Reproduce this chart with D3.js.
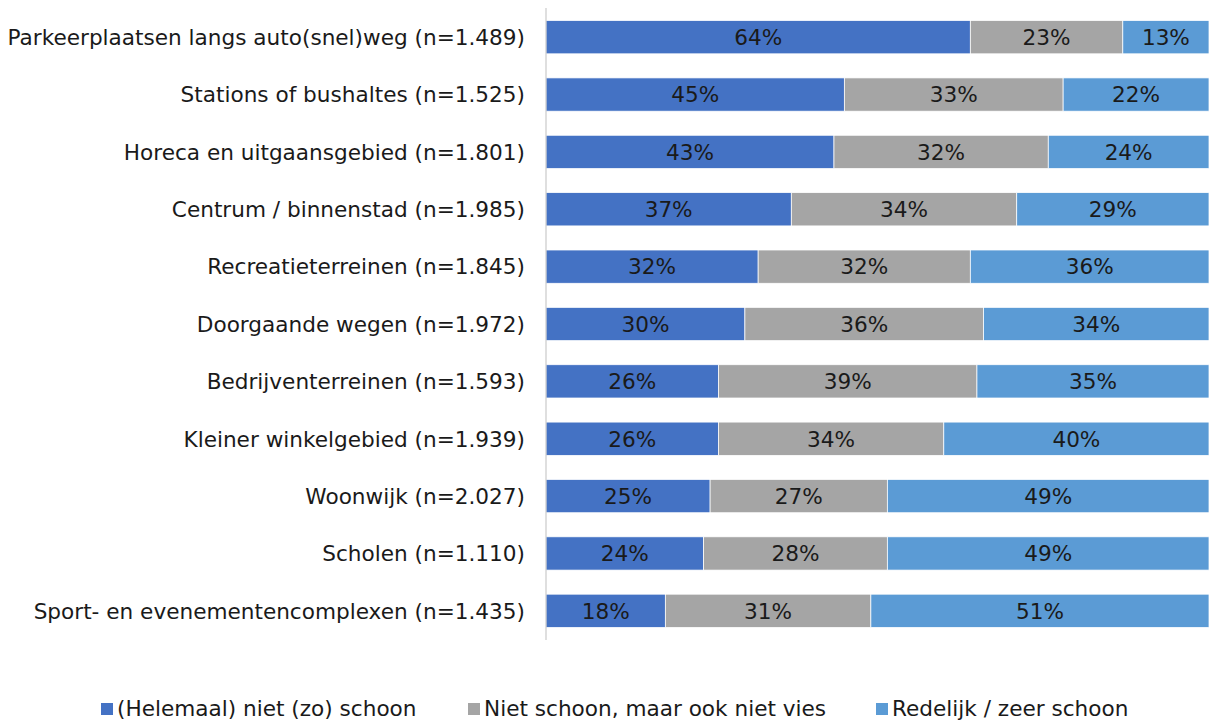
<!DOCTYPE html>
<html>
<head>
<meta charset="utf-8">
<script src="https://cdn.jsdelivr.net/npm/d3@7"></script>
<style>
  body { margin: 0; background: #fff; }
  text { font-family: "DejaVu Sans", Verdana, sans-serif; fill: #1a1a1a; }
</style>
</head>
<body>
<svg id="chart" width="1209" height="722"></svg>
<script>
var categories = [
  'Parkeerplaatsen langs auto(snel)weg (n=1.489)',
  'Stations of bushaltes (n=1.525)',
  'Horeca en uitgaansgebied (n=1.801)',
  'Centrum / binnenstad (n=1.985)',
  'Recreatieterreinen (n=1.845)',
  'Doorgaande wegen (n=1.972)',
  'Bedrijventerreinen (n=1.593)',
  'Kleiner winkelgebied (n=1.939)',
  'Woonwijk (n=2.027)',
  'Scholen (n=1.110)',
  'Sport- en evenementencomplexen (n=1.435)'
];

var seriesNames = ['(Helemaal) niet (zo) schoon', 'Niet schoon, maar ook niet vies', 'Redelijk / zeer schoon'];
var colors = ['#4472c4', '#a5a5a5', '#5b9bd5'];

var nietSchoon = [64, 45, 43, 37, 32, 30, 26, 26, 25, 24, 18];
var neutraal   = [23, 33, 32, 34, 32, 36, 39, 34, 27, 28, 31];
var schoon     = [13, 22, 24, 29, 36, 34, 35, 40, 49, 49, 51];

var series = [nietSchoon, neutraal, schoon];

var fontSize = '21.6px';
var svg = d3.select('#chart');

var axisX = 546;
var x = d3.scaleLinear().domain([0, 1]).range([axisX, 1209]);
var y = d3.scaleBand()
  .domain(categories)
  .range([8.5, 639.5])
  .paddingInner(0.42)
  .paddingOuter(0.21);

// build stacked rows, normalised to the row total
var rows = categories.map(function(c, i) {
  var total = nietSchoon[i] + neutraal[i] + schoon[i];
  var acc = 0;
  return series.map(function(s, k) {
    var seg = { cat: c, k: k, value: s[i], x0: acc / total, x1: (acc + s[i]) / total };
    acc += s[i];
    return seg;
  });
});

var segs = [].concat.apply([], rows);

svg.append('g').selectAll('rect')
  .data(segs)
  .enter().append('rect')
  .attr('x', function(d) { return x(d.x0); })
  .attr('y', function(d) { return y(d.cat); })
  .attr('width', function(d) { return x(d.x1) - x(d.x0); })
  .attr('height', y.bandwidth())
  .attr('fill', function(d) { return colors[d.k]; })
  .attr('stroke', '#fff')
  .attr('stroke-width', 0.75);

svg.append('g').selectAll('text')
  .data(segs)
  .enter().append('text')
  .attr('x', function(d) { return (x(d.x0) + x(d.x1)) / 2; })
  .attr('y', function(d) { return y(d.cat) + y.bandwidth() / 2; })
  .attr('dy', '0.36em')
  .attr('text-anchor', 'middle')
  .attr('font-size', fontSize)
  .text(function(d) { return d.value + '%'; });

// category axis
svg.append('line')
  .attr('x1', axisX).attr('x2', axisX)
  .attr('y1', 8).attr('y2', 640)
  .attr('stroke', '#bfbfbf')
  .attr('stroke-width', 1);

svg.append('g').selectAll('text')
  .data(categories)
  .enter().append('text')
  .attr('x', 525)
  .attr('y', function(d) { return y(d) + y.bandwidth() / 2; })
  .attr('dy', '0.36em')
  .attr('text-anchor', 'end')
  .attr('font-size', fontSize)
  .text(function(d) { return d; });

// legend
var legendX = [101, 468, 876];
var legend = svg.append('g').selectAll('g')
  .data(seriesNames)
  .enter().append('g')
  .attr('transform', function(d, i) { return 'translate(' + legendX[i] + ',703)'; });

legend.append('rect')
  .attr('width', 12).attr('height', 12)
  .attr('fill', function(d, i) { return colors[i]; });

legend.append('text')
  .attr('x', 16)
  .attr('y', 6)
  .attr('dy', '0.34em')
  .attr('font-size', fontSize)
  .text(function(d) { return d; });
</script>
</body>
</html>
